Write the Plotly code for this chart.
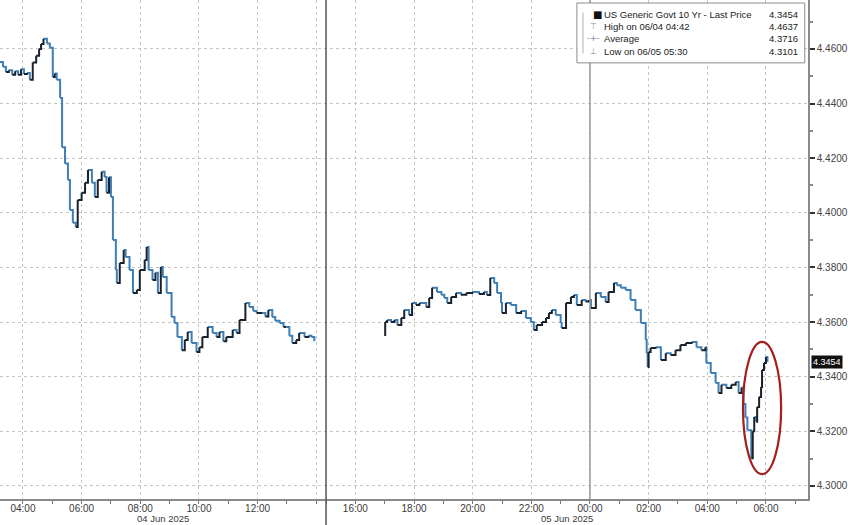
import plotly.graph_objects as go

# ---------------- data ----------------
jun4_times = ["03:13","03:19","03:25","03:31","03:38","03:44","03:50","03:56",
              "04:02","04:08","04:14","04:20","04:27","04:33","04:37","04:42","04:49","04:55",
              "05:01","05:05","05:09","05:16","05:20","05:26","05:32","05:36","05:42","05:48","05:52",
              "06:00","06:07","06:13","06:21","06:27","06:33","06:41","06:47","06:51","06:56",
              "07:00","07:04","07:10","07:12","07:18","07:26","07:30","07:38","07:45","07:53","07:59",
              "08:09","08:13","08:17","08:25","08:31","08:36","08:42","08:46","08:54",
              "09:04","09:10","09:16","09:25","09:31","09:37","09:45","09:55",
              "10:01","10:07","10:18","10:28","10:36","10:42","10:50","10:56",
              "11:09","11:17","11:23","11:35","11:43","11:51","11:58",
              "12:10","12:16","12:22","12:30","12:36","12:45","12:53","12:59",
              "13:05","13:11","13:19","13:25","13:36","13:44","13:50","13:56"]
jun4_yield = [4.4552,4.4535,4.4515,4.4522,4.4505,4.4518,4.4505,4.4525,
              4.4508,4.4512,4.4487,4.4550,4.4575,4.4600,4.4618,4.4637,4.4620,4.4604,
              4.4497,4.4510,4.4487,4.4420,4.4240,4.4180,4.4120,4.4010,4.3963,4.3948,4.4047,
              4.4073,4.4110,4.4157,4.4110,4.4058,4.4120,4.4150,4.4131,4.4073,4.4130,
              4.4058,4.3900,4.3790,4.3743,4.3816,4.3864,4.3838,4.3790,4.3706,4.3717,4.3790,
              4.3827,4.3875,4.3790,4.3754,4.3780,4.3706,4.3801,4.3765,4.3706,
              4.3618,4.3596,4.3545,4.3497,4.3534,4.3563,4.3523,4.3490,
              4.3508,4.3545,4.3582,4.3560,4.3545,4.3563,4.3530,4.3545,
              4.3571,4.3560,4.3607,4.3670,4.3655,4.3640,4.3633,
              4.3633,4.3620,4.3644,4.3618,4.3605,4.3596,4.3582,4.3582,
              4.3550,4.3523,4.3534,4.3560,4.3545,4.3550,4.3545,4.3530]

eve_times = ["16:59","17:01","17:05","17:13","17:20","17:26","17:34","17:40","17:50","17:56",
             "18:04","18:11","18:25","18:31","18:37","18:47","18:56",
             "19:02","19:08","19:16","19:26","19:36","19:47","19:59",
             "20:13","20:23","20:29","20:36","20:44","20:50","20:58",
             "21:00","21:08","21:18","21:29","21:39","21:49","21:59",
             "22:05","22:11","22:22","22:30","22:36","22:42","22:50",
             "23:00","23:02","23:11","23:21","23:27","23:33","23:43","23:51","23:58"]
eve_yield = [4.3552,4.3600,4.3607,4.3600,4.3607,4.3589,4.3615,4.3644,4.3626,4.3670,
             4.3662,4.3670,4.3655,4.3688,4.3725,4.3710,4.3700,
             4.3688,4.3670,4.3692,4.3706,4.3700,4.3706,4.3710,
             4.3703,4.3710,4.3699,4.3761,4.3743,4.3706,4.3670,
             4.3633,4.3670,4.3662,4.3633,4.3640,4.3615,4.3600,
             4.3571,4.3589,4.3600,4.3615,4.3633,4.3644,4.3626,
             4.3596,4.3578,4.3670,4.3692,4.3699,4.3662,4.3681,4.3675,4.3681]

jun5_times = ["00:02","00:12","00:22","00:32","00:38","00:49","00:55",
              "01:03","01:13","01:23","01:33","01:44","01:54","01:56","01:58",
              "02:00","02:04","02:14","02:25","02:35","02:45","02:55",
              "03:05","03:16","03:28","03:38","03:48","03:56","03:58",
              "04:07","04:17","04:23","04:29","04:39","04:49","04:58",
              "05:04","05:10","05:14","05:18","05:22","05:30","05:33","05:36","05:40",
              "05:42","05:46","05:50","05:52","05:56","06:00","06:03"]
jun5_yield = [4.3651,4.3706,4.3692,4.3673,4.3710,4.3743,4.3735,
              4.3725,4.3717,4.3681,4.3644,4.3596,4.3534,4.3486,4.3435,
              4.3490,4.3505,4.3508,4.3461,4.3486,4.3479,4.3497,
              4.3516,4.3523,4.3527,4.3508,4.3497,4.3508,4.3450,
              4.3413,4.3377,4.3340,4.3370,4.3358,4.3370,4.3380,
              4.3340,4.3360,4.3300,4.3250,4.3204,4.3101,4.3200,4.3252,4.3235,
              4.3289,4.3325,4.3362,4.3424,4.3450,4.3472,4.3454]

tick_times = ["2025-06-04 04:00","2025-06-04 06:00","2025-06-04 08:00","2025-06-04 10:00",
              "2025-06-04 12:00","2025-06-04 14:00","2025-06-04 16:00","2025-06-04 18:00",
              "2025-06-04 20:00","2025-06-04 22:00","2025-06-05 00:00","2025-06-05 02:00",
              "2025-06-05 04:00","2025-06-05 06:00"]
tick_labels = ["04:00","06:00","08:00","10:00","12:00","","16:00","18:00",
               "20:00","22:00","00:00","02:00","04:00","06:00"]

legend_rows = ["US Generic Govt 10 Yr - Last Price", "High on 06/04 04:42", "Average", "Low on 06/05 05:30"]
legend_vals = [4.3454, 4.4637, 4.3716, 4.3101]
legend_icons = ["■", "⊤", "-+-", "⊥"]
last_price = 4.3454

# ---------------- build ----------------
s1_t = ["2025-06-04 " + t for t in jun4_times]
s2_t = ["2025-06-04 " + t for t in eve_times] + ["2025-06-05 " + t for t in jun5_times]
s2_v = eve_yield + jun5_yield

UP_C = "#1a232d"
DN_C = "#3f7fb5"

up_x, up_y, dn_x, dn_y = [], [], [], []
for ts, vs in [(s1_t, jun4_yield), (s2_t, s2_v)]:
    for i in range(len(vs) - 1):
        if vs[i + 1] >= vs[i]:
            up_x += [ts[i], ts[i + 1], None]; up_y += [vs[i], vs[i + 1], None]
        else:
            dn_x += [ts[i], ts[i + 1], None]; dn_y += [vs[i], vs[i + 1], None]

fig = go.Figure()
fig.add_trace(go.Scatter(x=dn_x, y=dn_y, mode="lines", line=dict(color=DN_C, width=2, shape="hv"),
                         connectgaps=False, hoverinfo="skip"))
fig.add_trace(go.Scatter(x=up_x, y=up_y, mode="lines", line=dict(color=UP_C, width=2, shape="hv"),
                         connectgaps=False, hoverinfo="skip"))

FONT = "Liberation Sans"
fig.update_layout(
    width=848, height=525,
    margin=dict(l=0, r=40, t=0, b=26),
    plot_bgcolor="white", paper_bgcolor="white",
    showlegend=False,
    font=dict(family=FONT, size=10, color="#333"),
)
fig.update_xaxes(
    type="date",
    range=["2025-06-04 03:13", "2025-06-05 07:26"],
    rangebreaks=[dict(values=["2025-06-04 14:20"], dvalue=40 * 60 * 1000)],
    tickmode="array", tickvals=tick_times, ticktext=tick_labels,
    showgrid=True, gridcolor="#c4c4c4", griddash="dot", gridwidth=1,
    ticks="outside", ticklen=3, tickcolor="#777",
    ticklabelstandoff=-4,
    showline=True, linecolor="#8a8a8a", linewidth=2,
    tickfont=dict(family=FONT, size=10, color="#3a3a3a"),
    minor=dict(tickmode="linear", tick0="2025-06-04 03:00", dtick=3600000,
               ticks="outside", ticklen=3, tickcolor="#777", showgrid=False),
    zeroline=False,
)
fig.update_yaxes(
    side="right",
    range=[4.2952, 4.4779],
    tick0=4.30, dtick=0.02, tickformat=".4f",
    showgrid=True, gridcolor="#c4c4c4", griddash="dot", gridwidth=1,
    ticks="outside", ticklen=5, tickwidth=2, tickcolor="#333",
    showline=True, linecolor="#8a8a8a", linewidth=1.5,
    tickfont=dict(family=FONT, size=10, color="#444"),
    minor=dict(dtick=0.01, ticks="outside", ticklen=3, tickcolor="#888", showgrid=False),
    zeroline=False,
)

shapes = []
shapes.append(dict(type="line", xref="x", yref="paper", x0="2025-06-04 15:00", x1="2025-06-04 15:00",
                   y0=-0.055, y1=1, line=dict(color="#555", width=1.5)))
shapes.append(dict(type="line", xref="x", yref="paper", x0="2025-06-05 00:00", x1="2025-06-05 00:00",
                   y0=0, y1=1, line=dict(color="#9a9a9a", width=1.5)))
shapes.append(dict(type="circle", xref="x", yref="y", x0="2025-06-05 05:13", x1="2025-06-05 06:31",
                   y0=4.3043, y1=4.3527, line=dict(color="#a51d1d", width=2.2)))
shapes.append(dict(type="rect", xref="paper", yref="paper", x0=0.714, x1=0.996, y0=0.874, y1=0.994,
                   fillcolor="white", line=dict(color="#8c8c8c", width=1), layer="above"))
shapes.append(dict(type="line", xref="paper", yref="paper", x0=0.7215, x1=0.7215, y0=0.893, y1=0.975,
                   line=dict(color="#b0b0b0", width=1), layer="above"))
fig.update_layout(shapes=shapes)

annotations = []
row_y = [0.970, 0.946, 0.922, 0.896]
for i, (lbl, val, ico) in enumerate(zip(legend_rows, legend_vals, legend_icons)):
    annotations.append(dict(xref="paper", yref="paper", x=0.739 if i == 0 else 0.735, y=row_y[i],
                            text=ico, showarrow=False, xanchor="center", yanchor="middle",
                            font=dict(family="DejaVu Sans", size=10 if i == 0 else 8,
                                      color="#111" if i == 0 else "#888")))
    annotations.append(dict(xref="paper", yref="paper", x=0.745, y=row_y[i], text=lbl,
                            showarrow=False, xanchor="left", yanchor="middle",
                            font=dict(family=FONT, size=9.5, color="#222")))
    annotations.append(dict(xref="paper", yref="paper", x=0.990, y=row_y[i], text=f"{val:.4f}",
                            showarrow=False, xanchor="right", yanchor="middle",
                            font=dict(family=FONT, size=9.5, color="#222")))
annotations.append(dict(xref="paper", yref="paper", x=0.2017, y=-0.040, text="04 Jun 2025",
                        showarrow=False, xanchor="center", yanchor="middle",
                        font=dict(family=FONT, size=9.5, color="#3a3a3a")))
annotations.append(dict(xref="paper", yref="paper", x=0.7017, y=-0.040, text="05 Jun 2025",
                        showarrow=False, xanchor="center", yanchor="middle",
                        font=dict(family=FONT, size=9.5, color="#3a3a3a")))
annotations.append(dict(xref="paper", yref="y", x=1.0, xshift=3, y=last_price, text=f"{last_price:.4f}",
                        showarrow=False, xanchor="left", yanchor="middle", bgcolor="#111",
                        borderpad=1, font=dict(family=FONT, size=9, color="white")))
fig.update_layout(annotations=annotations)

fig.write_html("out.html", config={"displayModeBar": False},
               post_script="document.body.style.margin='0px';")
